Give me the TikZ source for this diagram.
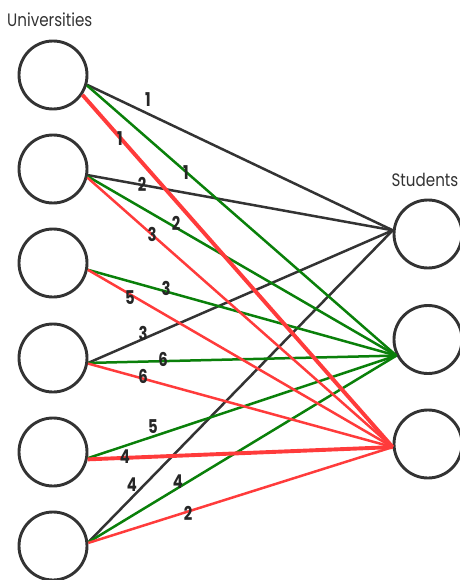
\documentclass[tikz,border=0pt]{standalone}
\usepackage{fontspec}
\setmainfont{Poppins}
\begin{document}
\begin{tikzpicture}[x=1pt,y=-1pt,
  circ/.style={circle,draw=cgray,line width=2.9pt,minimum size=68pt,inner sep=0pt},
  blk/.style={draw=cgray,line width=2.5pt},
  grn/.style={draw=cgreen,line width=2.5pt},
  rd/.style={draw=cred,line width=2.5pt},
  rdthick/.style={draw=cred,line width=3.9pt},
  lbl/.style={font=\fontsize{19}{19}\selectfont\bfseries,text=black!85,inner sep=0pt,xscale=0.78},
  ttl/.style={font=\fontsize{18}{18}\selectfont,text=cgray,inner sep=0pt,xscale=0.84}]
\definecolor{cgray}{HTML}{333333}
\definecolor{cgreen}{HTML}{0A800A}
\definecolor{cred}{HTML}{FF3B3B}
\useasboundingbox (0,0) rectangle (459,580);
% nodes
\node[circ] (u1) at (53,75) {};
\node[circ] (u2) at (53,169) {};
\node[circ] (u3) at (53,263) {};
\node[circ] (u4) at (53,358) {};
\node[circ] (u5) at (53,452) {};
\node[circ] (u6) at (53,546) {};
\node[circ] (s1) at (428,234) {};
\node[circ] (s2) at (428,339.5) {};
\node[circ] (s3) at (428,444) {};
\node[ttl,anchor=west] (tu) at (7,20) {Universities};
\node[ttl,anchor=east] (ts) at (458.5,180) {Students};
% edges to students 1
\draw[blk] (u1.-16) -- (s1.174);
\draw[blk] (u2.-10) -- (s1.174);
\draw[blk] (u4.-8) -- (s1.174);
\draw[blk] (u6.6) -- (s1.174);
% edges to student 2
\draw[grn] (u1.-17) -- (s2.207);
\draw[grn] (u2.-12) -- (s2.207);
\draw[grn] (u3.-11) -- (s2.207);
\draw[grn] (u4.-8) -- (s2.207);
\draw[grn] (u5.-10) -- (s2.207);
\draw[grn] (u6.6) -- (s2.207);
% edges to student 3
\draw[rdthick] (u1.-34) -- (s3.185);
\draw[rd] (u2.-14) -- (s3.185);
\draw[rd] (u3.-11) -- (s3.185);
\draw[rd] (u4.-9) -- (s3.185);
\draw[rdthick] (u5.-12) -- (s3.185);
\draw[rd] (u6.5) -- (s3.185);
% labels
\node[lbl] (l1) at (148,100) {1};
\node[lbl] (l2) at (120,139) {1};
\node[lbl] (l3) at (186,173) {1};
\node[lbl] (l4) at (142,184) {2};
\node[lbl] (l5) at (176,223) {2};
\node[lbl] (l6) at (152,234) {3};
\node[lbl] (l7) at (166,288) {3};
\node[lbl] (l8) at (130,298) {5};
\node[lbl] (l9) at (143,333) {3};
\node[lbl] (l10) at (163,359) {6};
\node[lbl] (l11) at (143,376) {6};
\node[lbl] (l12) at (153,427) {5};
\node[lbl] (l13) at (125,457) {4};
\node[lbl] (l14) at (132,485) {4};
\node[lbl] (l15) at (178,482) {4};
\node[lbl] (l16) at (188,513) {2};
\end{tikzpicture}
\end{document}
